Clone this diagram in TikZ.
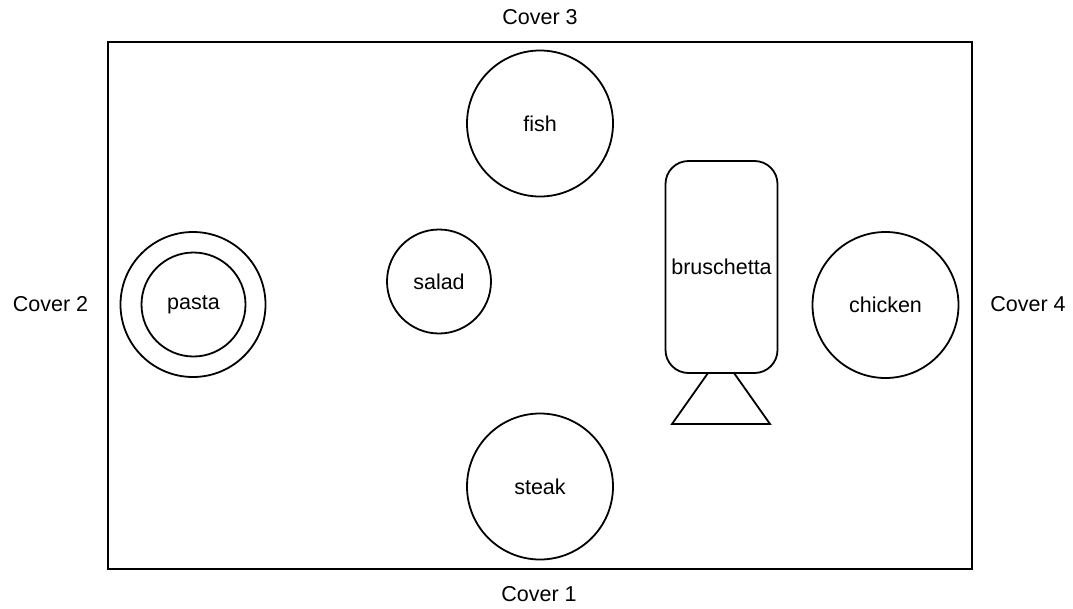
\documentclass[tikz,border=0pt]{standalone}
\usepackage{fontspec}
\setmainfont{Liberation Sans}
\begin{document}
\begin{tikzpicture}[x=1pt,y=-1pt,
  line width=1.8pt,
  lbl/.style={font=\fontsize{21.5}{24}\selectfont, inner sep=0pt},
  dish/.style={draw, circle, inner sep=0pt, font=\fontsize{21.5}{24}\selectfont}]
\useasboundingbox (0,0) rectangle (1073,608);
\node[draw, rectangle, minimum width=864pt, minimum height=527pt, inner sep=0pt] (table) at (540,305.5) {};
\node[dish, minimum size=146pt] (fish) at (540,123.5) {fish};
\node[dish, minimum size=146pt] (steak) at (540,486.5) {steak};
\node[dish, minimum size=104pt] (salad) at (439,281.5) {salad};
\node[dish, minimum size=145pt] (plate) at (193,304.5) {};
\node[dish, minimum size=104pt] (pasta) at (193.5,304.5) {pasta};
\node[dish, minimum size=146pt] (chicken) at (885.5,305) {chicken};
\node[draw, rectangle, rounded corners=23pt, minimum width=112pt, minimum height=212pt, inner sep=0pt, font=\fontsize{21.5}{24}\selectfont] (brus) at (721.5,267) {bruschetta};
\coordinate (t1) at (708,373);
\coordinate (t2) at (734,373);
\coordinate (t3) at (770,424);
\coordinate (t4) at (672,424);
\draw[line join=miter] (t1) -- (t2) -- (t3) -- (t4) -- cycle;
\node[lbl] (c1) at (539,594) {Cover 1};
\node[lbl] (c2) at (50.5,304) {Cover 2};
\node[lbl] (c3) at (540,17) {Cover 3};
\node[lbl] (c4) at (1028,304) {Cover 4};
\end{tikzpicture}
\end{document}
